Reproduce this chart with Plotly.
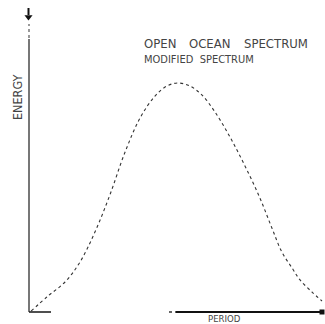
import plotly.graph_objects as go

# Spectrum curve (arbitrary units: period vs energy)
period = [0.07, 0.65, 1.23, 1.74, 2.25, 2.76, 3.28, 3.79, 4.30, 4.71, 5.09,
          5.49, 5.90, 6.35, 6.86, 7.37, 7.88, 8.29, 8.63, 8.98, 9.25, 9.66, 10.0]
energy = [0.04, 0.70, 1.31, 2.18, 3.49, 5.11, 6.99, 8.47, 9.43, 9.87, 10.0,
          9.87, 9.48, 8.73, 7.64, 6.38, 4.98, 3.67, 2.62, 1.92, 1.40, 0.87, 0.48]

title_line1_words = ["OPEN", "OCEAN", "SPECTRUM"]
title_line2 = "MODIFIED  SPECTRUM"
x_label = "PERIOD"
y_label = "ENERGY"

W, H = 325, 324
X0, XS = 29, 29.3   # px of period 0, px per unit
Y0, YS = 312, 22.9  # px of energy 0, px per unit

def dx(px):
    return (px - X0) / XS

def dy(py):
    return (Y0 - py) / YS

fig = go.Figure()

# curve
fig.add_trace(go.Scatter(x=period, y=energy, mode="lines",
                         line=dict(color="#333333", width=1.1, dash="dot", shape="spline"),
                         hoverinfo="skip"))

# vertical axis
fig.add_trace(go.Scatter(x=[dx(29), dx(29)], y=[0, dy(39)], mode="lines",
                         line=dict(color="#555555", width=1.6), hoverinfo="skip"))
fig.add_trace(go.Scatter(x=[dx(29), dx(29)], y=[dy(38), dy(24)], mode="lines",
                         line=dict(color="#555555", width=1.2, dash="dot"), hoverinfo="skip"))
# arrow at top
fig.add_trace(go.Scatter(x=[dx(28.5), dx(28.5)], y=[dy(8), dy(15)], mode="lines",
                         line=dict(color="#111111", width=2), hoverinfo="skip"))
fig.add_trace(go.Scatter(x=[dx(28.5)], y=[dy(17)], mode="markers",
                         marker=dict(symbol="triangle-down", size=7, color="#111111"),
                         hoverinfo="skip"))

# horizontal axis
fig.add_trace(go.Scatter(x=[0, dx(51)], y=[0, 0], mode="lines",
                         line=dict(color="#222222", width=1.6), hoverinfo="skip"))
fig.add_trace(go.Scatter(x=[dx(169), dx(176)], y=[0, 0], mode="lines",
                         line=dict(color="#333333", width=1.4, dash="dot"), hoverinfo="skip"))
fig.add_trace(go.Scatter(x=[dx(176), dx(321)], y=[0, 0], mode="lines",
                         line=dict(color="#111111", width=1.8), hoverinfo="skip"))
fig.add_trace(go.Scatter(x=[dx(322)], y=[0], mode="markers",
                         marker=dict(symbol="square", size=5, color="#111111"),
                         hoverinfo="skip"))

font_fam = "Liberation Sans Narrow, DejaVu Sans Condensed, Roboto, Liberation Sans, sans-serif"
ann = []
word_x = [143, 188, 243]
for w, px in zip(title_line1_words, word_x):
    ann.append(dict(text=w, x=px / W, y=1 - 44 / H, xref="paper", yref="paper",
                    xanchor="left", yanchor="middle", showarrow=False, borderpad=0,
                    font=dict(family=font_fam, size=13, color="#444444")))
ann.append(dict(text=title_line2.replace(" ", "\u00a0"), x=143 / W, y=1 - 59 / H,
                xref="paper", yref="paper", borderpad=0,
                xanchor="left", yanchor="middle", showarrow=False,
                font=dict(family=font_fam, size=11, color="#444444")))
ann.append(dict(text=y_label, x=17 / W, y=1 - 97 / H, xref="paper", yref="paper",
                xanchor="center", yanchor="middle", showarrow=False, textangle=-90,
                font=dict(family=font_fam, size=12.5, color="#444444")))
ann.append(dict(text=x_label, x=224 / W, y=1 - 318.5 / H, xref="paper", yref="paper",
                xanchor="center", yanchor="middle", showarrow=False,
                font=dict(family=font_fam, size=9.5, color="#444444")))

fig.update_layout(
    width=W, height=H, margin=dict(l=0, r=0, t=0, b=0),
    paper_bgcolor="white", plot_bgcolor="white", showlegend=False,
    xaxis=dict(range=[dx(0), dx(W)], visible=False, fixedrange=True),
    yaxis=dict(range=[dy(H), dy(0)], visible=False, fixedrange=True),
    annotations=ann,
)

fig.write_html("out.html")
